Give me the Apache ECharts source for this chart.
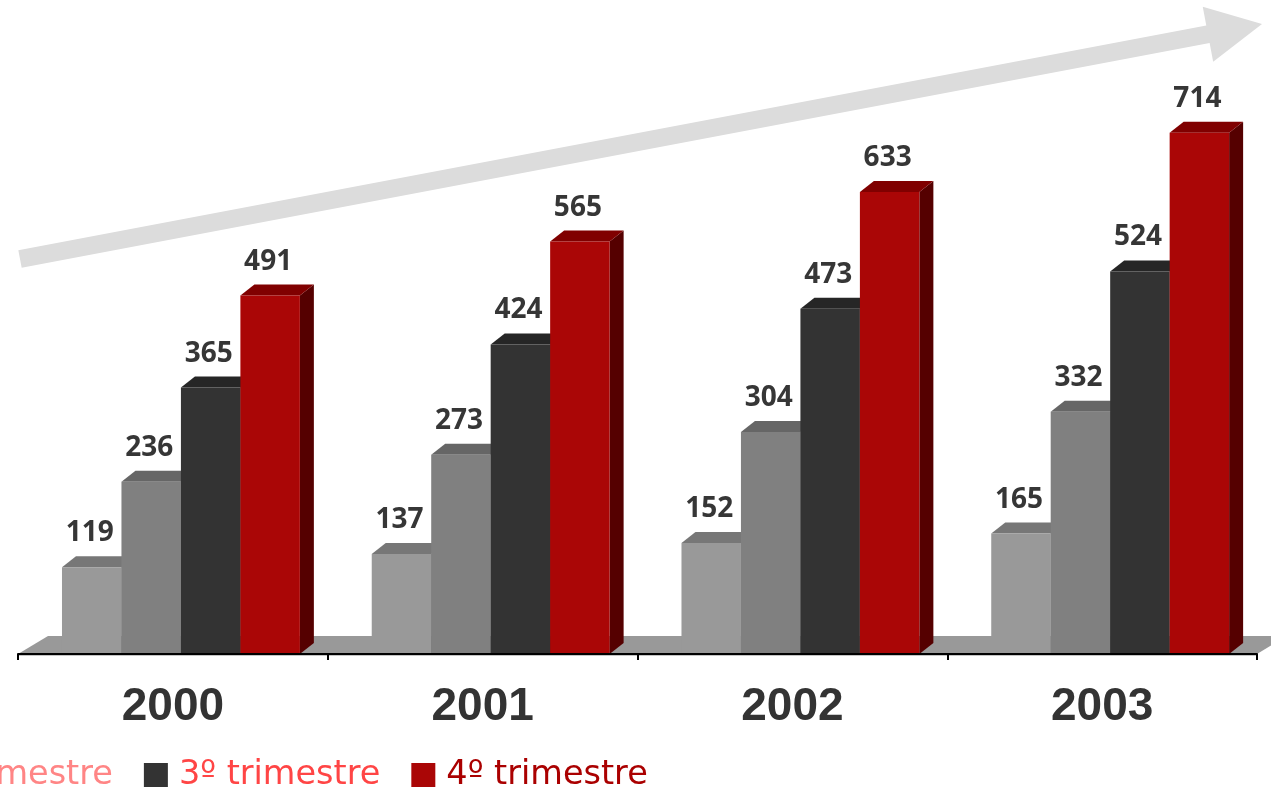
<!DOCTYPE html>
<html>
<head>
<meta charset="utf-8">
<script src="https://cdn.jsdelivr.net/npm/echarts@6/dist/echarts.min.js"></script>
<style>
html,body{margin:0;padding:0;background:#fff;}
#chart{width:1271px;height:793px;}
</style>
</head>
<body>
<div id="chart"></div>
<script>
// ---- data ----
const categories = ['2000', '2001', '2002', '2003'];
const seriesNames = ['1º trimestre', '2º trimestre', '3º trimestre', '4º trimestre'];
const q1 = [119, 137, 152, 165];
const q2 = [236, 273, 304, 332];
const q3 = [365, 424, 473, 524];
const q4 = [491, 565, 633, 714];

// ---- styles ----
const frontColors = ['#999999', '#808080', '#333333', '#aa0606'];
const topColors   = ['#777777', '#666666', '#262626', '#800000'];
const sideColors  = ['#6a6a6a', '#5a5a5a', '#1e1e1e', '#550000'];
const legendTextColors = ['#ffb3b3', '#ff8585', '#ff4545', '#aa0000'];

const GRID = {left: 18, right: 14, top: 70, bottom: 139};
const W = 1271, H = 793;
const baseY = H - GRID.bottom;

const chart = echarts.init(document.getElementById('chart'), null, {renderer: 'canvas'});

function makeRender(k) {
  return function (params, api) {
    const i = api.value(0), v = api.value(1);
    const base = api.coord([i, 0]);
    const tp = api.coord([i, v]);
    const cw = api.size([1, 0])[0];
    const bw = cw * 0.192;
    const x0 = base[0] - cw * 0.358 + k * bw;
    const y0 = base[1], y1 = tp[1];
    const dx = 14, dy = -11;
    return {
      type: 'group',
      children: [
        {type: 'polygon', shape: {points: [[x0 + bw, y0], [x0 + bw + dx, y0 + dy], [x0 + bw + dx, y1 + dy], [x0 + bw, y1]]},
         style: {fill: sideColors[k]}},
        {type: 'polygon', shape: {points: [[x0, y1], [x0 + dx, y1 + dy], [x0 + bw + dx, y1 + dy], [x0 + bw, y1]]},
         style: {fill: topColors[k]}},
        {type: 'rect', shape: {x: x0, y: y1, width: bw, height: y0 - y1},
         style: {fill: frontColors[k]}},
        {type: 'text', x: x0 + bw / 2 - 2, y: y1 - 34,
         style: {text: String(v), fill: '#363636', font: 'bold 28px "Open Sans", "Noto Sans", sans-serif',
                 textAlign: 'center', textVerticalAlign: 'middle'}}
      ]
    };
  };
}

const allValues = [q1, q2, q3, q4];
const series = allValues.map((vals, k) => ({
  type: 'custom',
  name: seriesNames[k],
  renderItem: makeRender(k),
  itemStyle: {color: frontColors[k]},
  encode: {x: 0, y: 1},
  data: vals.map((v, i) => [i, v]),
  z: 5 + k,
  clip: false
}));

// Arrow geometry (decoration)
const tail = [20, 259], tip = [1262, 24];
const d = [tip[0] - tail[0], tip[1] - tail[1]];
const len = Math.hypot(d[0], d[1]);
const u = [d[0] / len, d[1] / len];
const n = [-u[1], u[0]];
const headLen = 55, headHalf = 28, shaftHalf = 9;
const bpt = [tip[0] - headLen * u[0], tip[1] - headLen * u[1]];
const P = (p, s) => [p[0] + s * n[0], p[1] + s * n[1]];
const arrowPts = [P(tail, -shaftHalf), P(bpt, -shaftHalf), P(bpt, -headHalf), tip, P(bpt, headHalf), P(bpt, shaftHalf), P(tail, shaftHalf)];

const plotRight = W - GRID.right;
const option = {
  backgroundColor: '#ffffff',
  animation: false,
  grid: {left: GRID.left, right: GRID.right, top: GRID.top, bottom: GRID.bottom, containLabel: false},
  xAxis: {
    type: 'category',
    data: categories,
    boundaryGap: true,
    offset: 4,
    z: 10,
    axisLine: {show: true, lineStyle: {color: '#000', width: 2}},
    axisTick: {show: true, length: 6, lineStyle: {color: '#000', width: 2}},
    axisLabel: {fontSize: 46, fontWeight: 'bold', color: '#333', fontFamily: '"Liberation Sans", Arial, sans-serif',
                margin: 49, verticalAlign: 'middle'},
    splitLine: {show: false}
  },
  yAxis: {type: 'value', min: 0, max: 800, show: false, splitLine: {show: false}},
  legend: {
    orient: 'horizontal',
    left: -391,
    top: 758,
    padding: 0,
    itemGap: 31,
    itemWidth: 24,
    itemHeight: 24,
    icon: 'rect',
    data: seriesNames.map((nm, k) => ({name: nm, textStyle: {color: legendTextColors[k]}})),
    textStyle: {fontSize: 33.5, fontFamily: '"DejaVu Sans", sans-serif', padding: [0, 0, 0, 6]}
  },
  graphic: [
    {type: 'polygon', z: 0, silent: true, shape: {points: arrowPts}, style: {fill: '#dcdcdc'}},
    {type: 'polygon', z: 1, silent: true,
     shape: {points: [[GRID.left, baseY], [plotRight, baseY], [plotRight + 30, baseY - 18], [GRID.left + 30, baseY - 18]]},
     style: {fill: '#999999'}},
    {type: 'line', z: 1, silent: true, shape: {x1: GRID.left + 1, y1: baseY + 1.5, x2: plotRight, y2: baseY + 1.5},
     style: {stroke: '#c4c4c4', lineWidth: 1}}
  ],
  series: series
};
chart.setOption(option);
</script>
</body>
</html>
